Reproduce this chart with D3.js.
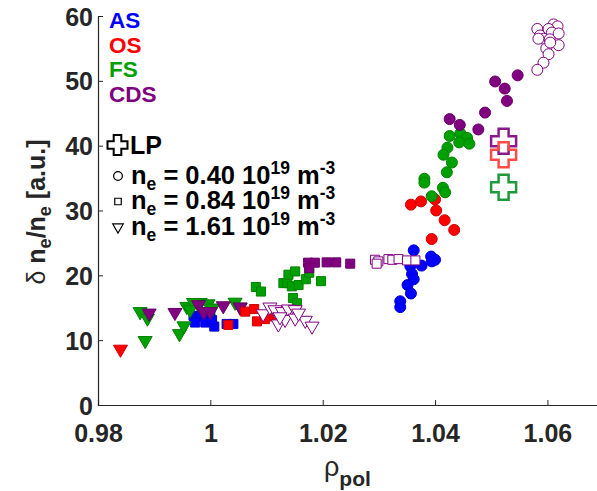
<!DOCTYPE html>
<html>
<head>
<meta charset="utf-8">
<script src="https://cdn.jsdelivr.net/npm/d3@7"></script>
<style>
  body { margin: 0; background: #fff; }
  text { font-family: "Liberation Sans", Arial, Helvetica, sans-serif; font-weight: bold; }
</style>
</head>
<body>
<svg id="chart" width="597" height="491"></svg>
<script>
// data: [rho_pol, dn/n]
const asCircles = [[1.0362, 23.85], [1.0393, 22.9], [1.04, 22.4], [1.0394, 22.15], [1.0376, 21.5], [1.0356, 21.4],
  [1.0359, 20.2], [1.0362, 19.4], [1.0351, 18.5], [1.0357, 17.2], [1.0338, 16.0], [1.0338, 15.1]];
const osCircles = [[1.0357, 30.9], [1.0375, 31.4], [1.04, 31.7], [1.0402, 30.0], [1.0417, 28.5], [1.0434, 27.0], [1.0394, 25.6]];
const fsCircles = [[1.0445, 41.9], [1.0426, 41.5], [1.0457, 41.2], [1.0443, 40.5], [1.0461, 40.3], [1.0422, 39.7],
  [1.0415, 38.6], [1.043, 37.4], [1.0421, 35.9], [1.0381, 34.9], [1.0381, 34.3], [1.0414, 33.5], [1.0418, 32.8], [1.0394, 32.2]];
const cdsCircles = [[1.0547, 50.85], [1.0507, 49.9], [1.0524, 48.8], [1.0528, 46.9], [1.0489, 45.1], [1.0426, 44.1],
  [1.0444, 43.2], [1.0477, 42.5]];
const cdsCirclesOpen = [[1.0582, 58.0], [1.0587, 57.0], [1.0611, 58.7], [1.0618, 58.4], [1.0602, 58.0], [1.0608, 57.45],
  [1.062, 57.3], [1.0593, 56.5], [1.0604, 56.4], [1.0584, 56.5], [1.062, 55.5], [1.0598, 55.0], [1.0602, 54.1],
  [1.0593, 52.8], [1.0582, 51.7], [1.0605, 55.9]];

const asSquares = [[0.997, 13.76], [0.9982, 13.65], [1.0, 13.65], [0.9973, 12.72], [0.9991, 12.72], [1.0007, 12.1],
  [1.0003, 13.1], [1.0029, 12.5], [1.0041, 12.5]];
const osSquares = [[1.0032, 12.36], [1.0062, 14.4], [1.0078, 14.8], [1.0083, 12.9], [1.0097, 13.25], [1.0114, 13.65], [1.0118, 14.2]];
const fsSquares = [[1.0081, 18.2], [1.009, 17.5], [1.013, 18.8], [1.0137, 18.8], [1.0139, 20.1], [1.0151, 20.6],
  [1.0145, 18.3], [1.0157, 18.5], [1.017, 19.4], [1.0176, 20.4], [1.0197, 19.1], [1.0147, 16.5], [1.0154, 15.7]];
const cdsSquares = [[1.0174, 21.95], [1.0186, 21.95], [1.0176, 21.1], [1.0207, 22.0], [1.0224, 22.0], [1.0249, 21.8]];
const cdsSquaresOpen = [[1.0293, 22.4], [1.0299, 22.15], [1.0317, 22.5], [1.0324, 22.4], [1.0335, 22.5], [1.035, 22.3],
  [1.0365, 22.3], [1.0296, 21.8]];

const osTriangles = [[0.984, 8.6]];
const fsTriangles = [[0.9875, 14.4], [0.9888, 13.4], [0.9884, 9.94], [0.9945, 11.0], [0.9953, 12.2], [0.9958, 15.2],
  [0.997, 15.8], [0.9964, 14.7], [0.9982, 15.8], [0.9996, 15.6], [1.0004, 14.95], [1.0044, 15.85], [1.0053, 15.1]];
const cdsTriangles = [[0.9891, 14.17], [0.9937, 14.27], [0.9979, 15.46], [0.9988, 14.4], [1.0, 14.4], [1.0023, 15.3], [1.0053, 15.1]];
const cdsTrianglesOpen = [[1.0094, 14.06], [1.0106, 15.1], [1.0115, 14.68], [1.0128, 14.4], [1.0139, 14.8], [1.0151, 14.7],
  [1.0121, 12.5], [1.0133, 13.2], [1.0151, 13.4], [1.0169, 13.06], [1.0181, 12.16], [1.0157, 14.17], [1.0124, 13.6]];

const lpPoints = [[1.0522, 40.7, "CDS"], [1.0522, 38.6, "OS"], [1.0522, 33.6, "FS"]];

const regionNames = ["AS", "OS", "FS", "CDS"];
const regionColors = ["#0000ff", "#ff0000", "#00a000", "#800080"];
const lpColors = {CDS: "#8a1a8a", OS: "#ff4a4a", FS: "#1e9a3c"};
const xTicks = [0.98, 1, 1.02, 1.04, 1.06];
const yTicks = [0, 10, 20, 30, 40, 50, 60];

const svg = d3.select("#chart");
const axisColor = "#262626";

const x = d3.scaleLinear().domain([0.98, 1.07]).range([98, 603.6]);
const y = d3.scaleLinear().domain([0, 60]).range([405, 16]);

const colorOf = d3.scaleOrdinal().domain(regionNames).range(regionColors);

// axes, ticks pointing inward
const xAxis = svg.append("g")
    .attr("transform", `translate(0,${y(0)})`)
    .call(d3.axisBottom(x).tickValues(xTicks).tickSize(-5).tickPadding(14).tickFormat(d3.format("")));
const yAxis = svg.append("g")
    .attr("transform", `translate(${x(0.98)},0)`)
    .call(d3.axisLeft(y).tickValues(yTicks).tickSize(-5).tickPadding(5));

[xAxis, yAxis].forEach(function (g) {
    g.select(".domain").attr("stroke", axisColor).attr("stroke-width", 1.2);
    g.selectAll(".tick line").attr("stroke", axisColor).attr("stroke-width", 1);
    g.selectAll(".tick text").attr("fill", axisColor).attr("font-size", 25)
        .attr("font-family", "Liberation Sans, Arial, sans-serif").attr("font-weight", "bold");
});
xAxis.selectAll(".tick text").attr("dy", "0.9em");
yAxis.selectAll(".tick text").attr("dy", "0.36em");

// marker shapes
const shapes = {
    circle: d3.symbol().type(d3.symbolCircle).size(95),
    square: d3.symbol().type(d3.symbolSquare).size(82),
    triangle: d3.symbol().type(d3.symbolTriangle).size(85)
};

const series = [
    {data: asCircles, region: "AS", shape: "circle"},
    {data: asSquares, region: "AS", shape: "square"},
    {data: osTriangles, region: "OS", shape: "triangle"},
    {data: fsTriangles, region: "FS", shape: "triangle"},
    {data: cdsTriangles, region: "CDS", shape: "triangle"},
    {data: osCircles, region: "OS", shape: "circle"},
    {data: osSquares, region: "OS", shape: "square"},
    {data: fsCircles, region: "FS", shape: "circle"},
    {data: fsSquares, region: "FS", shape: "square"},
    {data: cdsCircles, region: "CDS", shape: "circle"},
    {data: cdsSquares, region: "CDS", shape: "square"},
    {data: cdsCirclesOpen, region: "CDS", shape: "circle", open: true},
    {data: cdsSquaresOpen, region: "CDS", shape: "square", open: true},
    {data: cdsTrianglesOpen, region: "CDS", shape: "triangle", open: true}
];

const marks = svg.append("g");
series.forEach(function (s) {
    const c = colorOf(s.region);
    marks.append("g").selectAll("path")
        .data(s.data)
        .join("path")
        .attr("d", shapes[s.shape])
        .attr("transform", (d) => `translate(${x(d[0])},${y(d[1])})` + (s.shape === "triangle" ? " rotate(180)" : ""))
        .attr("fill", s.open ? "#fff" : c)
        .attr("stroke", s.open ? c : d3.color(c).darker(0.6))
        .attr("stroke-width", 1);
});

// outlined plus marker
function plusPath(half, arm) {
    const h = half, a = arm;
    return `M${-a},${-h}H${a}V${-a}H${h}V${a}H${a}V${h}H${-a}V${a}H${-h}V${-a}H${-a}Z`;
}

svg.append("g").selectAll("path")
    .data(lpPoints)
    .join("path")
    .attr("d", plusPath(12.5, 5))
    .attr("transform", (d) => `translate(${x(d[0])},${y(d[1])})`)
    .attr("fill", "none")
    .attr("stroke", (d) => lpColors[d[2]])
    .attr("stroke-width", 2.5);

// region legend
svg.append("g").selectAll("text")
    .data(regionNames)
    .join("text")
    .attr("x", 109)
    .attr("y", (d, i) => 28 + i * 24.7)
    .attr("font-size", 22.5)
    .attr("fill", (d) => colorOf(d))
    .text((d) => d);

// LP and density legend
const legend = svg.append("g");
legend.append("path")
    .attr("d", plusPath(10, 3.8))
    .attr("transform", "translate(117.5,145)")
    .attr("fill", "none")
    .attr("stroke", "#000")
    .attr("stroke-width", 2);
legend.append("text").attr("x", 130).attr("y", 153.5).attr("font-size", 25).text("LP");

const densityLabels = ["0.40", "0.84", "1.61"];
const densityShapes = ["circle", "square", "triangle"];
const legendShapes = {
    circle: d3.symbol().type(d3.symbolCircle).size(60),
    square: d3.symbol().type(d3.symbolSquare).size(42),
    triangle: d3.symbol().type(d3.symbolTriangle).size(48)
};
densityLabels.forEach(function (lab, i) {
    const cy = 176 + i * 25.5;
    legend.append("path")
        .attr("d", legendShapes[densityShapes[i]])
        .attr("transform", `translate(118,${cy})` + (densityShapes[i] === "triangle" ? " rotate(180)" : ""))
        .attr("fill", "none")
        .attr("stroke", "#000")
        .attr("stroke-width", 1.2);
    const t = legend.append("text").attr("x", 131).attr("y", cy + 7.5).attr("font-size", 25.5);
    t.append("tspan").text("n");
    t.append("tspan").attr("font-size", 17.5).attr("dy", 6).text("e");
    t.append("tspan").attr("dy", -6).text(` = ${lab} 10`);
    t.append("tspan").attr("font-size", 17.5).attr("dy", -10).text("19");
    t.append("tspan").attr("dy", 10).text(" m");
    t.append("tspan").attr("font-size", 17.5).attr("dy", -10).text("-3");
});

// axis titles
const yl = svg.append("text")
    .attr("transform", "translate(45,212) rotate(-90)")
    .attr("text-anchor", "middle")
    .attr("font-size", 25)
    .attr("fill", axisColor);
yl.append("tspan").attr("font-weight", "normal").text("δ ");
yl.append("tspan").text("n");
yl.append("tspan").attr("font-size", 18).attr("dy", 6).text("e");
yl.append("tspan").attr("dy", -6).text("/n");
yl.append("tspan").attr("font-size", 18).attr("dy", 6).text("e");
yl.append("tspan").attr("dy", -6).text(" [a.u.]");

const xl = svg.append("text")
    .attr("x", 324).attr("y", 476)
    .attr("font-size", 27)
    .attr("fill", axisColor);
xl.append("tspan").attr("font-weight", "normal").text("ρ");
xl.append("tspan").attr("font-size", 21).attr("dy", 10).text("pol");
</script>
</body>
</html>
